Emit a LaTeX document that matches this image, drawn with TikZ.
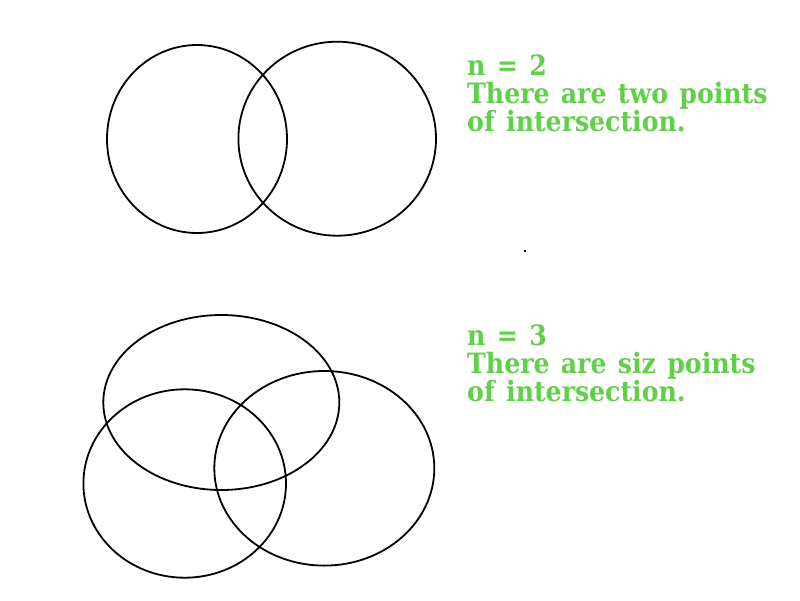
\documentclass[tikz,border=0pt]{standalone}
\usepackage{fontspec}
\newfontfamily\lblfont{DejaVu Serif Condensed}[BoldFont={* Bold},WordSpace=1.3]
\definecolor{lblgreen}{RGB}{96,208,72}
\begin{document}
\begin{tikzpicture}[x=1pt,y=-1pt,
  ring/.style={draw=black,line width=1.8pt},
  lbl/.style={anchor=base west,inner sep=0pt,text=lblgreen,font=\lblfont\bfseries\fontsize{28}{29}\selectfont}]
\useasboundingbox[fill=white] (0,0) rectangle (800,600);
% top pair
\draw[ring] (197,139) ellipse [x radius=90pt, y radius=94pt];
\draw[ring] (337.2,138.7) ellipse [x radius=98.8pt, y radius=97pt];
% bottom triple
\draw[ring] (221.3,402.5) ellipse [x radius=118pt, y radius=87.5pt];
\draw[ring] (184.7,483.5) ellipse [x radius=101.3pt, y radius=94.2pt];
\draw[ring] (324.3,468.3) ellipse [x radius=110pt, y radius=97.3pt];
% dot
\fill[black] (524,250) rectangle (526,252);
% labels
\node[lbl] (a1) at (467,75) {n = 2};
\node[lbl] (a2) at (467,103.3) {There are two points};
\node[lbl] (a3) at (467,131.7) {of intersection.};
\node[lbl] (b1) at (467,345) {n = 3};
\node[lbl] (b2) at (467,373.3) {There are siz points};
\node[lbl] (b3) at (467,401.7) {of intersection.};
\end{tikzpicture}
\end{document}
